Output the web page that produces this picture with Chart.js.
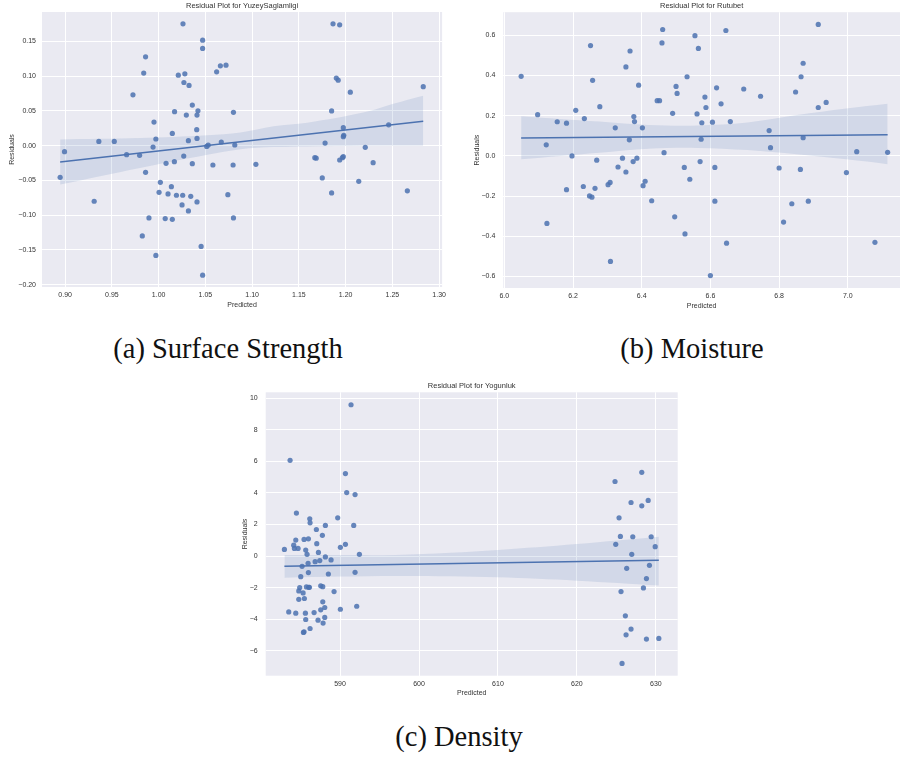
<!DOCTYPE html>
<html>
<head>
<meta charset="utf-8">
<script src="https://cdn.jsdelivr.net/npm/chart.js@4/dist/chart.umd.min.js"></script>
<style>
  body { margin: 0; background: #ffffff; width: 904px; height: 762px; position: relative; overflow: hidden; }
  canvas { position: absolute; }
  .cap { position: absolute; width: 300px; text-align: center; font-family: 'Liberation Serif', serif; font-size: 28.5px; line-height: 1; color: #111; white-space: nowrap; }
</style>
</head>
<body>
<canvas id="chartA" width="450" height="315" style="left:0px;top:0px"></canvas>
<canvas id="chartB" width="449" height="315" style="left:455px;top:0px"></canvas>
<canvas id="chartC" width="470" height="330" style="left:225px;top:375px"></canvas>
<div class="cap" style="left:78px;top:335px">(a) Surface Strength</div>
<div class="cap" style="left:542px;top:335px">(b) Moisture</div>
<div class="cap" style="left:309px;top:723px">(c) Density</div>
<script>
// (a) YuzeySaglamligi - surface strength
const predA = [1.026, 1.047, 1.047, 0.986, 0.984, 1.021, 1.028, 1.027, 1.0325, 1.062, 1.066, 1.072,
  0.9725, 1.036, 1.017, 1.042, 1.0296, 1.041, 1.080, 0.995, 1.0407, 1.0146, 1.041, 0.997, 1.0318,
  0.936, 0.9525, 1.067, 1.053, 1.0514, 1.0814, 0.994, 0.8993, 0.9657, 0.9796, 1.0268, 1.0168, 1.0079,
  1.036, 1.058, 1.0796, 1.104, 0.8946, 0.986, 1.0018, 1.0136, 1.0004, 1.010, 1.019, 1.0257, 1.0343,
  1.074, 0.931, 1.041, 1.025, 1.0318, 0.9896, 1.007, 1.0146, 1.080, 0.9825, 1.0454, 0.997, 1.047,
  1.1865, 1.1936, 1.190, 1.192, 1.205, 1.283, 1.185, 1.1975, 1.246, 1.198, 1.1975, 1.178, 1.221,
  1.167, 1.1685, 1.1975, 1.1965, 1.1936, 1.2294, 1.175, 1.185, 1.214, 1.266];
const residA = [0.1755, 0.152, 0.140, 0.128, 0.1045, 0.1016, 0.1035, 0.091, 0.0868, 0.1064, 0.115, 0.116,
  0.0733, 0.0585, 0.0489, 0.0503, 0.0441, 0.0441, 0.048, 0.034, 0.023, 0.0177, 0.0105, 0.0096, 0.0072,
  0.0062, 0.0062, 0.0053, 0.001, -0.001, 0.001, -0.002, -0.0086, -0.013, -0.0139, -0.0149, -0.023, -0.0254,
  -0.0259, -0.0278, -0.0278, -0.0268, -0.0455, -0.0384, -0.0527, -0.059, -0.0671, -0.0695, -0.0714, -0.0714, -0.0729,
  -0.0705, -0.080, -0.081, -0.0853, -0.094, -0.104, -0.105, -0.106, -0.104, -0.130, -0.145, -0.158, -0.1865,
  0.1755, 0.174, 0.0973, 0.0944, 0.077, 0.085, 0.050, 0.026, 0.030, 0.0149, 0.013, 0.0038, -0.0024,
  -0.0173, -0.018, -0.0158, -0.0173, -0.0206, -0.0245, -0.0465, -0.068, -0.0513, -0.065];
const fitXA = [0.8946, 1.283];
const fitYA = [-0.0234, 0.0352];
const bandXA = [0.8946, 0.98, 1.052, 1.0875, 1.123, 1.159, 1.22, 1.25, 1.283];
const bandUpA = [0.009, 0.011, 0.015, 0.019, 0.028, 0.033, 0.048, 0.060, 0.072];
const bandLoA = [-0.056, -0.032, -0.013, -0.005, -0.002, -0.001, 0.0, 0.0, 0.0];
const xTicksA = ['0.90', '0.95', '1.00', '1.05', '1.10', '1.15', '1.20', '1.25', '1.30'];
const yTicksA = ['-0.20', '-0.15', '-0.10', '-0.05', '0.00', '0.05', '0.10', '0.15'];

// (b) Rutubet - moisture
const predB = [6.049, 6.097, 6.122, 6.124, 6.154, 6.181, 6.181, 6.197, 6.208, 6.233, 6.230, 6.251,
  6.257, 6.248, 6.255, 6.264, 6.269, 6.278, 6.302, 6.308, 6.309, 6.323, 6.331, 6.344, 6.354, 6.354,
  6.366, 6.364, 6.375, 6.377, 6.379, 6.386, 6.391, 6.402, 6.404, 6.410, 6.429, 6.445, 6.452, 6.461,
  6.459, 6.465, 6.490, 6.496, 6.500, 6.503, 6.524, 6.526, 6.532, 6.540, 6.555, 6.561, 6.565, 6.570,
  6.573, 6.575, 6.584, 6.587, 6.600, 6.606, 6.613, 6.613, 6.618, 6.631, 6.645, 6.647, 6.658, 6.697,
  6.746, 6.771, 6.775, 6.800, 6.813, 6.837, 6.848, 6.862, 6.864, 6.870, 6.870, 6.885, 6.914, 6.914,
  6.937, 6.996, 7.026, 7.079, 7.116];
const residB = [0.396, 0.205, 0.055, -0.336, 0.170, 0.163, -0.168, 0.0, 0.227, 0.186, -0.152, 0.549,
  0.376, -0.199, -0.205, -0.161, -0.021, 0.245, -0.143, -0.132, -0.525, 0.140, -0.055, -0.011, 0.443, -0.080,
  0.522, 0.080, -0.028, 0.196, 0.171, -0.011, 0.352, 0.140, -0.148, -0.126, -0.223, 0.275, 0.275, 0.629,
  0.562, 0.016, 0.212, -0.303, 0.346, 0.311, -0.057, -0.388, 0.394, -0.116, 0.598, 0.209, 0.535, -0.028,
  0.083, 0.165, 0.293, 0.241, -0.595, 0.168, -0.057, -0.225, 0.339, 0.259, 0.624, -0.434, 0.171, 0.333,
  0.297, 0.126, 0.041, -0.060, -0.329, -0.238, 0.318, -0.067, 0.394, 0.461, 0.091, -0.225, 0.654, 0.241,
  0.266, -0.083, 0.021, -0.430, 0.018];
const fitXB = [6.049, 7.116];
const fitYB = [0.089, 0.105];
const bandXB = [6.049, 6.276, 6.42, 6.564, 6.708, 6.852, 6.996, 7.116];
const bandUpB = [0.198, 0.171, 0.154, 0.151, 0.166, 0.203, 0.236, 0.260];
const bandLoB = [-0.017, 0.016, 0.036, 0.040, 0.029, 0.008, -0.017, -0.041];
const xTicksB = ['6.0', '6.2', '6.4', '6.6', '6.8', '7.0'];
const yTicksB = ['-0.6', '-0.4', '-0.2', '0.0', '0.2', '0.4', '0.6'];

// (c) Yogunluk - density
const predC = [582.95, 583.50, 583.67, 584.13, 584.22, 584.39, 584.39, 584.47, 584.68, 584.77, 584.77,
  584.89, 585.02, 585.19, 585.32, 585.36, 585.44, 585.48, 585.44, 585.65, 585.61, 585.65, 585.74, 585.82,
  585.95, 585.99, 585.99, 586.03, 586.16, 586.20, 586.20, 586.12, 586.71, 586.84, 587.00, 587.05, 587.21,
  587.26, 587.43, 587.55, 587.55, 587.76, 587.81, 587.81, 587.85, 588.06, 588.06, 588.14, 588.14, 588.52,
  588.86, 589.24, 589.70, 590.04, 590.04, 590.68, 590.68, 590.84, 591.39, 591.73, 591.90, 591.90, 592.11,
  592.45, 628.22, 624.83, 626.86, 628.22, 629.03, 625.34, 625.51, 627.08, 629.41, 624.92, 629.92, 626.95,
  629.19, 626.31, 628.81, 628.43, 625.59, 626.14, 626.86, 626.23, 628.81, 630.38, 625.72];
const residC = [0.42, -3.54, 6.06, 0.69, 0.48, 1.01, -3.62, 2.72, 0.48, -2.21, -2.74,
  -2.00, -1.31, -0.65, -2.34, -4.84, 1.05, -2.69, -4.80, 0.38, -3.62, -4.02, -1.96, 0.11,
  -0.46, 1.09, -1.05, -1.98, 2.36, 2.10, -4.59, -1.98, -3.58, -0.36, 1.68, 0.78, -4.06,
  0.23, -0.29, -1.89, -3.41, 1.31, -1.94, -2.90, -4.25, -3.26, -3.89, 1.94, -0.06, -1.14,
  -0.25, -2.25, 2.42, 0.55, -3.37, 5.22, 0.74, 4.02, 9.58, 1.94, 3.89, -1.03, -3.18,
  0.11, 5.30, 4.72, 3.39, 3.18, 3.52, 2.42, 1.24, 1.22, 1.22, 0.74, 0.59, 0.11,
  -0.59, -0.78, -1.43, -2.02, -2.25, -3.79, -4.63, -4.99, -5.26, -5.22, -6.80];
const fitXC = [582.95, 630.38];
const fitYC = [-0.65, -0.27];
const bandXC = [582.95, 590, 597, 604, 610, 620, 630.38];
const bandUpC = [0.06, 0.06, 0.07, 0.20, 0.38, 0.76, 1.22];
const bandLoC = [-1.37, -1.30, -1.26, -1.28, -1.35, -1.56, -1.87];
const xTicksC = ['590', '600', '610', '620', '630'];
const yTicksC = ['-6', '-4', '-2', '0', '2', '4', '6', '8', '10'];

const BLUE = '#4C72B0';
const FONT = "'Liberation Sans', Arial, sans-serif";
const TEXT_COLOR = '#333333';

function toPts(xs, ys) {
  return xs.map((x, i) => ({ x: x, y: ys[i] }));
}

// axis with fixed tick positions and a fixed thickness so the plot box lands where we want it
function makeAxis(labels, min, max, pad, size) {
  return {
    type: 'linear',
    min: min,
    max: max,
    afterBuildTicks: s => { s.ticks = labels.map(l => ({ value: parseFloat(l) })); },
    afterFit: s => { if (s.isHorizontal()) s.height = size; else s.width = size; },
    grid: { color: '#ffffff', lineWidth: 1, drawTicks: false },
    border: { display: false },
    ticks: {
      padding: pad,
      autoSkip: false,
      maxRotation: 0,
      color: TEXT_COLOR,
      font: { family: FONT, size: 7 },
      callback: (v, i) => labels[i].replace('-', '\u2212')
    }
  };
}

// seaborn-like plot background + title and axis labels
const plotDecor = {
  id: 'plotDecor',
  beforeDraw(chart) {
    const a = chart.chartArea;
    const ctx = chart.ctx;
    ctx.save();
    ctx.fillStyle = '#EAEAF2';
    ctx.fillRect(a.left, a.top, a.right - a.left, a.bottom - a.top);
    ctx.restore();
  },
  afterDraw(chart, args, opts) {
    const a = chart.chartArea;
    const ctx = chart.ctx;
    const cx = (a.left + a.right) / 2;
    ctx.save();
    ctx.fillStyle = TEXT_COLOR;
    ctx.textAlign = 'center';
    ctx.textBaseline = 'middle';
    ctx.font = '7.5px ' + FONT;
    ctx.fillText(opts.title, cx, a.top - 6.5);
    ctx.font = '7px ' + FONT;
    ctx.fillText(opts.xLabel, cx, a.bottom + opts.xLabelOff);
    ctx.translate(a.left - opts.yLabelOff, (a.top + a.bottom) / 2);
    ctx.rotate(-Math.PI / 2);
    ctx.fillText(opts.yLabel, 0, 0);
    ctx.restore();
  }
};

function makeResidChart(id, c) {
  const ctx = document.getElementById(id);
  return new Chart(ctx, {
    type: 'scatter',
    data: {
      datasets: [{
        type: 'line',
        data: toPts(c.fitX, c.fitY),
        borderColor: BLUE,
        borderWidth: 1.5,
        pointRadius: 0,
        fill: false
      }, {
        type: 'line',
        data: toPts(c.bandX, c.bandUp),
        borderWidth: 0,
        pointRadius: 0,
        tension: 0.35,
        backgroundColor: 'rgba(76, 114, 176, 0.15)',
        fill: '+1'
      }, {
        type: 'line',
        data: toPts(c.bandX, c.bandLo),
        borderWidth: 0,
        pointRadius: 0,
        tension: 0.35,
        fill: false
      }, {
        data: toPts(c.pred, c.resid),
        pointRadius: 2.6,
        pointBorderWidth: 0,
        backgroundColor: 'rgba(76, 114, 176, 0.85)'
      }]
    },
    options: {
      responsive: false,
      animation: false,
      devicePixelRatio: 1,
      layout: { padding: { left: 0, bottom: 0, top: c.top, right: c.right } },
      scales: {
        x: makeAxis(c.xTicks, c.xMin, c.xMax, 4, c.xAxisH),
        y: makeAxis(c.yTicks, c.yMin, c.yMax, c.yPad, c.yAxisW)
      },
      plugins: {
        legend: { display: false },
        tooltip: { enabled: false },
        plotDecor: {
          title: c.title,
          xLabel: 'Predicted',
          yLabel: 'Residuals',
          xLabelOff: c.xLabelOff,
          yLabelOff: c.yLabelOff
        }
      }
    },
    plugins: [plotDecor]
  });
}

makeResidChart('chartA', {
  pred: predA, resid: residA, fitX: fitXA, fitY: fitYA,
  bandX: bandXA, bandUp: bandUpA, bandLo: bandLoA,
  xTicks: xTicksA, yTicks: yTicksA,
  xMin: 0.8752, xMax: 1.3032, yMin: -0.2035, yMax: 0.1925,
  yAxisW: 42, xAxisH: 28, top: 12, right: 7,
  yPad: 6, xLabelOff: 18, yLabelOff: 30,
  title: 'Residual Plot for YuzeySaglamligi'
});

makeResidChart('chartB', {
  pred: predB, resid: residB, fitX: fitXB, fitY: fitYB,
  bandX: bandXB, bandUp: bandUpB, bandLo: bandLoB,
  xTicks: xTicksB, yTicks: yTicksB,
  xMin: 5.997, xMax: 7.152, yMin: -0.657, yMax: 0.715,
  yAxisW: 48.3, xAxisH: 27, top: 7.3, right: 0,
  yPad: 8, xLabelOff: 18, yLabelOff: 26.6,
  title: 'Residual Plot for Rutubet'
});

makeResidChart('chartC', {
  pred: predC, resid: residC, fitX: fitXC, fitY: fitYC,
  bandX: bandXC, bandUp: bandUpC, bandLo: bandLoC,
  xTicks: xTicksC, yTicks: yTicksC,
  xMin: 580.58, xMax: 632.77, yMin: -7.58, yMax: 10.37,
  yAxisW: 40.7, xAxisH: 29.3, top: 17.3, right: 17.3,
  yPad: 8, xLabelOff: 17.6, yLabelOff: 20.7,
  title: 'Residual Plot for Yogunluk'
});
</script>
</body>
</html>
